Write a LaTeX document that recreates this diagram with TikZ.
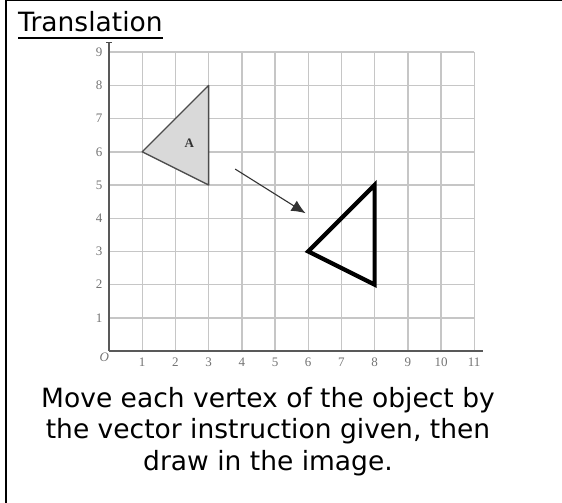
\documentclass[tikz,border=0pt]{standalone}
\usepackage{fontspec}
\setmainfont{DejaVu Sans}
\newfontfamily\axisfont{Liberation Serif}
\usetikzlibrary{arrows.meta}
\tikzset{
  gridline/.style={gray!45, line width=1.4pt},
  axisline/.style={black!65, line width=2pt},
  axislabel/.style={font=\axisfont\fontsize{13}{13}\selectfont, text=black!55, inner sep=0pt},
  bodytext/.style={font=\fontsize{26.5}{31.5}\selectfont, align=center, inner sep=0pt},
}
\begin{document}
\begin{tikzpicture}[x=1pt,y=1pt]
  \useasboundingbox (0,0) rectangle (562,-503);
  % --- outer frame: only the top and left edges show
  \draw[line width=2pt] (6,-0.5) -- (562,-0.5);
  \draw[line width=2.4pt] (6,0) -- (6,-503);
  % --- heading
  \node[font=\fontsize{26.5}{26.5}\selectfont, anchor=base west, inner sep=0pt] (title) at (18,-32) {Translation};
  \draw[line width=1.8pt] ([yshift=-6pt]title.base west) -- ([yshift=-6pt]title.base east);
  % --- the coordinate grid, one unit = one square
  \begin{scope}[shift={(109,-351)}, x=33.2pt, y=33.2pt]
    \foreach \i in {1,...,11}
      \draw[gridline] (\i,0) -- (\i,9);
    \foreach \j in {1,...,9}
      \draw[gridline] (0,\j) -- (11,\j);
    \draw[axisline] (0,0) -- (11.25,0);
    \draw[axisline] (0,0) -- (0,9.3);
    \draw[black!70, line width=1pt] (-0.08,9.3) -- (0.08,9.3);
    \foreach \i in {1,...,11}
      \node[axislabel] (xl\i) at (\i,-0.33) {\i};
    \foreach \j in {1,...,9}
      \node[axislabel] (yl\j) at (-0.3,\j) {\j};
    \node[axislabel] (origin) at (-0.14,-0.2) {\itshape O};
    % --- object A and its image
    \coordinate (a1) at (1,6);
    \coordinate (a2) at (3,8);
    \coordinate (a3) at (3,5);
    \filldraw[fill=gray!30, draw=black!70, line width=1.3pt, line join=round] (a1) -- (a2) -- (a3) -- cycle;
    \node[font=\axisfont\bfseries\fontsize{13}{13}\selectfont, text=black!80] (labA) at (2.42,6.27) {A};
    \coordinate (b1) at (6,3);
    \coordinate (b2) at (8,5);
    \coordinate (b3) at (8,2);
    \draw[line width=4.2pt, line join=miter] (b1) -- (b2) -- (b3) -- cycle;
    % --- the translation arrow
    \coordinate (from) at (3.8,5.48);
    \coordinate (to) at (5.92,4.15);
    \draw[black!80, line width=1.1pt, -{Latex[length=14pt,width=12pt]}] (from) -- (to);
  \end{scope}
  % --- instruction underneath
  \node[bodytext, anchor=base] (instr) at (268,-470)
    {Move each vertex of the object by\\the vector instruction given, then\\draw in the image.};
\end{tikzpicture}
\end{document}
